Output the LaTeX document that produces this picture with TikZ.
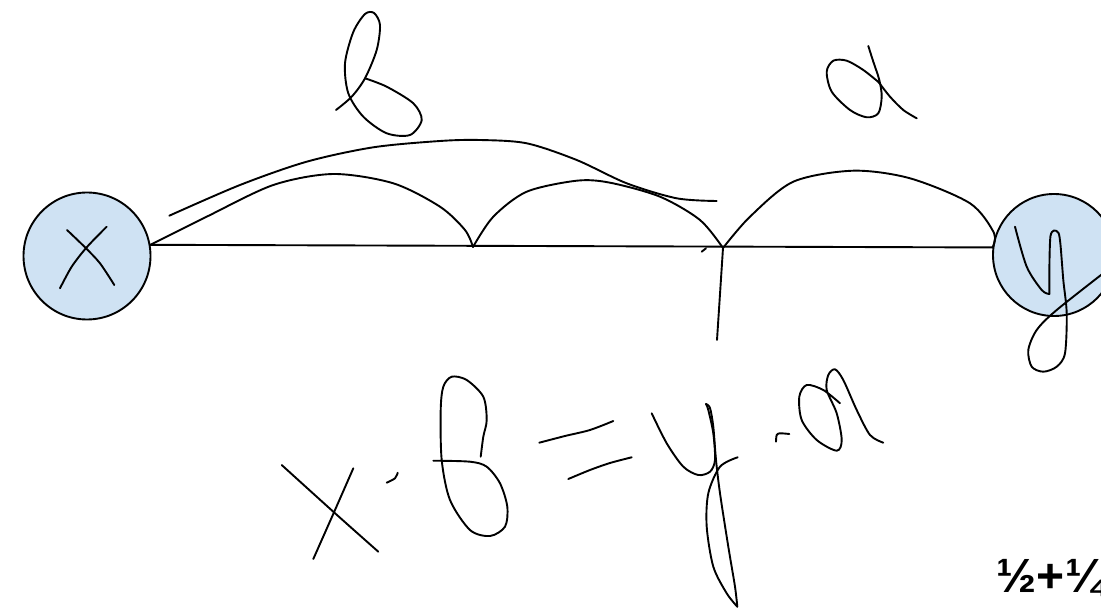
\documentclass[tikz,border=0pt]{standalone}
\usepackage{fontspec}
\usepackage{xcolor}
\usepackage{tikz}
\usetikzlibrary{positioning}
\definecolor{palefill}{HTML}{CFE2F3}
\newfontfamily\notefont{Liberation Sans}

\begin{document}
\begin{tikzpicture}[x=1pt, y=-1pt, line width=1.9pt, line cap=round, line join=round,
    endpt/.style={circle, draw=black, line width=1.9pt, fill=palefill, inner sep=0pt},
    ink/.style={draw=black, line width=1.9pt}]
  \useasboundingbox (0,0) rectangle (1101,612);
  \clip (0,0) rectangle (1101,612);

  % the two ends
  \node[endpt, minimum size=127pt] (xend) at (87,256) {};
  \node[endpt, minimum size=122pt] (yend) at (1054,255) {};
  \coordinate (cuspa) at (473,247);
  \coordinate (cuspb) at (723,248);
  \coordinate (tick) at (717,340);

  % base line and the three hops
  \draw[ink] (xend.10) -- (yend.173);
  \draw[ink] plot[smooth] coordinates {(xend.10) (206.7,216.7) (273.3,185) (333.3,174) (393.3,183.3) (440,206.7) (465,230) (cuspa)};
  \draw[ink] plot[smooth] coordinates {(cuspa) (493.3,216.7) (526.7,191.7) (576.7,180.7) (610,182.7) (660,196.7) (700,220) (cuspb)};
  \draw[ink] plot[smooth] coordinates {(cuspb) (750,216.7) (793.3,181.7) (853.3,170.7) (910,178.3) (970,203.3) (994,233) (yend.173)};
  \draw[ink] (cuspb) -- (tick);
  \draw[ink] (701.7,251.7) -- (706,248.3);

  % long span over the first part
  \draw[ink] plot[smooth] coordinates {(169.3,215.7) (240,185) (306.7,161.7) (373.3,147.3) (440,141) (480,140) (526.7,143.3) (576.7,160) (626.7,183.3) (676.7,198.3) (716.7,201)};

  % beta and alpha above
  \draw[ink] plot[smooth] coordinates {(336,110) (351.7,96.7) (365,78.3) (376.7,50) (380,25) (374,13) (365,14) (353.3,32) (345,63.3) (348.3,93.3) (363.3,116.7) (386.7,133.3) (410,135) (421.7,120) (413.3,103.3) (386.7,86.7) (365,78.3)};
  \draw[ink] plot[smooth] coordinates {(880,83.3) (863.3,70) (846.7,60.7) (833.3,60.7) (826.7,71.7) (831.7,91.7) (850,110) (866.7,117.3) (878.3,113.3) (881.7,96.7) (879.3,80) (873.3,61.7) (868.3,46)};
  \draw[ink] plot[smooth] coordinates {(878.3,81.7) (890,96.7) (903.3,110) (916.7,118.3)};

  % letters in the circles
  \draw[ink] plot[smooth] coordinates {(67,230) (85,247.3) (100,263.3) (114.3,285)};
  \draw[ink] plot[smooth] coordinates {(106.7,226.7) (86.7,247.3) (71.7,266.7) (60,288.3)};
  \draw[ink] plot[smooth] coordinates {(1015,226.7) (1026.7,266.7) (1041.7,290) (1049.3,294)};
  \draw[ink] plot[smooth] coordinates {(1049.3,294) (1049.5,260) (1050.5,236) (1054,230.5) (1058.5,233) (1060.5,245) (1063.3,280) (1066.7,313.3) (1065,353.3) (1056.7,366.7) (1043.3,371.7) (1031.7,366.7) (1028.3,350) (1036.7,330) (1056.7,310) (1110,268)};

  % x . beta = y . alpha
  \draw[ink] plot[smooth] coordinates {(281.7,465) (333.3,511.7) (378.3,551.7)};
  \draw[ink] plot[smooth] coordinates {(353.3,468.3) (335,510) (313.3,559)};
  \draw[ink] plot[smooth] coordinates {(386.7,482.7) (395,478.3) (397.7,472.7)};
  \draw[ink] plot[smooth] coordinates {(480.7,456.7) (483.3,436.7) (486.7,420) (483.3,396.7) (466.7,380) (451.7,376.7) (443.3,386.7) (440.7,410) (441.7,460) (450,500) (470,530) (490,536) (505,526.7) (507.3,506.7) (500,483.3) (486.7,466.7) (470,461.7) (433.3,460.7)};
  \draw[ink] plot[smooth] coordinates {(539.3,442.7) (565,436) (590,430) (613.3,421)};
  \draw[ink] plot[smooth] coordinates {(568.3,479) (590,470) (610,463) (631.7,457.3)};
  \draw[ink] plot[smooth] coordinates {(651.7,413.3) (666.7,443.3) (683.3,466.7) (698.3,475) (710,471.7) (715,460) (713.3,433.3) (708.3,410) (706,404)};
  \draw[ink] plot[smooth] coordinates {(706,404) (710,408) (713.3,426.7) (716,460) (720,493.3) (728.3,546.7) (735,586.7) (737.3,606.7)};
  \draw[ink] plot[smooth] coordinates {(737.3,606.7) (726.7,593.3) (713.3,566.7) (706.7,526.7) (708.3,493.3) (720,466.7) (737.7,457.3)};
  \draw[ink] plot[smooth] coordinates {(776,441.7) (776.7,435) (780,433.3) (789.3,434)};
  \draw[ink] plot[smooth] coordinates {(840,403.3) (823.3,390) (806.7,385) (799.3,396.7) (801.7,420) (816.7,440) (836.7,450.7) (841.7,440) (836.7,413.3) (826.7,390) (828.3,375) (835,369.3) (843.3,380) (856.7,410) (870,435) (883.3,442.7)};

  \node[anchor=base west, inner sep=0pt, font={\notefont\bfseries\fontsize{48}{52}\selectfont}] (sum) at (996,592) {½+¼};
\end{tikzpicture}
\end{document}
